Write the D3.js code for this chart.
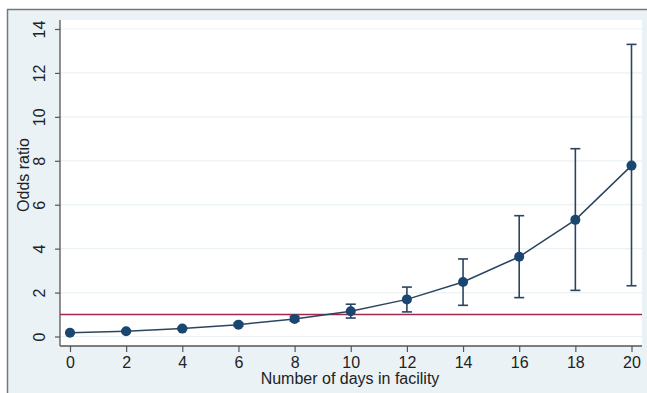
<!DOCTYPE html>
<html><head><meta charset="utf-8">
<script src="https://cdn.jsdelivr.net/npm/d3@7"></script>
<style>html,body{margin:0;padding:0;background:#fff}svg{display:block}</style>
</head><body>
<script>
const days = [0, 2, 4, 6, 8, 10, 12, 14, 16, 18, 20];
const oddsRatio = [0.17, 0.24, 0.36, 0.54, 0.80, 1.15, 1.69, 2.48, 3.63, 5.31, 7.78];
const ciLower = [0.15, 0.21, 0.32, 0.47, 0.70, 0.84, 1.12, 1.42, 1.77, 2.10, 2.31];
const ciUpper = [0.19, 0.27, 0.40, 0.62, 0.92, 1.47, 2.25, 3.53, 5.50, 8.55, 13.3];
const xTicks = [0, 2, 4, 6, 8, 10, 12, 14, 16, 18, 20];
const yTicks = [0, 2, 4, 6, 8, 10, 12, 14];
const refLine = 1;

const W = 647, H = 393;
const svg = d3.select("body").append("svg").attr("width", W).attr("height", H);
const font = "'Liberation Sans', Arial, sans-serif";
const navy = "#1a476f", lineCol = "#2b4560", red = "#a3284e";

// outer panel
svg.append("rect").attr("x", 7).attr("y", 9).attr("width", W).attr("height", H).attr("fill", "#eaf2f6");
svg.append("line").attr("x1", 7).attr("x2", W).attr("y1", 9.5).attr("y2", 9.5).attr("stroke", "#777").attr("stroke-width", 1.5);
svg.append("line").attr("x1", 7.5).attr("x2", 7.5).attr("y1", 9).attr("y2", H).attr("stroke", "#777").attr("stroke-width", 1.5);

const pL = 60, pR = 642, pT = 20, pB = 346;
svg.append("rect").attr("x", pL).attr("y", pT).attr("width", pR - pL).attr("height", pB - pT).attr("fill", "#fff");

const x = d3.scaleLinear().domain([0, 20]).range([70, 631.5]);
const y = d3.scaleLinear().domain([0, 14]).range([336.5, 29]);

// grid
svg.append("g").selectAll("line").data(yTicks).join("line")
  .attr("x1", pL).attr("x2", pR).attr("y1", d => y(d)).attr("y2", d => y(d))
  .attr("stroke", "#eaf2f3").attr("stroke-width", 1.2);

// axes
const yAxis = d3.axisLeft(y).tickValues(yTicks).tickSize(5).tickPadding(8);
const gy = svg.append("g").attr("transform", `translate(${pL},0)`).call(yAxis);
gy.select(".domain").attr("d", `M0,${pT}V${pB}`).attr("stroke", "#555").attr("stroke-width", 1.3);
gy.selectAll(".tick line").attr("stroke", "#555").attr("stroke-width", 1.2);
gy.selectAll(".tick text").attr("font-family", font).attr("font-size", 16).attr("fill", "#222")
  .attr("text-anchor", "middle").attr("x", 0).attr("dy", 0)
  .attr("transform", "translate(-21,0) rotate(-90)").attr("dominant-baseline", "central");

const xAxis = d3.axisBottom(x).tickValues(xTicks).tickSize(6).tickPadding(4);
const gx = svg.append("g").attr("transform", `translate(0,${pB})`).call(xAxis);
gx.select(".domain").attr("d", `M${pL},0H${pR}`).attr("stroke", "#555").attr("stroke-width", 1.3);
gx.selectAll(".tick line").attr("stroke", "#555").attr("stroke-width", 1.2);
gx.selectAll(".tick text").attr("font-family", font).attr("font-size", 16).attr("fill", "#222").attr("dy", "0.75em");

svg.append("text").attr("x", 350).attr("y", 384).attr("text-anchor", "middle")
  .attr("font-family", font).attr("font-size", 16).attr("fill", "#222").text("Number of days in facility");
svg.append("text").attr("transform", `translate(23,175) rotate(-90)`).attr("text-anchor", "middle")
  .attr("dominant-baseline", "central")
  .attr("font-family", font).attr("font-size", 16).attr("fill", "#222").text("Odds ratio");

// reference line
svg.append("line").attr("x1", pL).attr("x2", pR).attr("y1", y(refLine)).attr("y2", y(refLine))
  .attr("stroke", red).attr("stroke-width", 1.5);

// error bars
const eb = svg.append("g").attr("stroke", lineCol).attr("stroke-width", 1.6);
days.forEach((d, i) => {
  eb.append("line").attr("x1", x(d)).attr("x2", x(d)).attr("y1", y(ciLower[i])).attr("y2", y(ciUpper[i]));
  eb.append("line").attr("x1", x(d) - 5).attr("x2", x(d) + 5).attr("y1", y(ciLower[i])).attr("y2", y(ciLower[i]));
  eb.append("line").attr("x1", x(d) - 5).attr("x2", x(d) + 5).attr("y1", y(ciUpper[i])).attr("y2", y(ciUpper[i]));
});

// line
const line = d3.line().x((d, i) => x(days[i])).y(d => y(d));
svg.append("path").datum(oddsRatio).attr("d", line).attr("fill", "none").attr("stroke", lineCol).attr("stroke-width", 1.5);

svg.append("g").selectAll("circle").data(oddsRatio).join("circle")
  .attr("cx", (d, i) => x(days[i])).attr("cy", d => y(d)).attr("r", 5).attr("fill", navy);
</script>
</body></html>
